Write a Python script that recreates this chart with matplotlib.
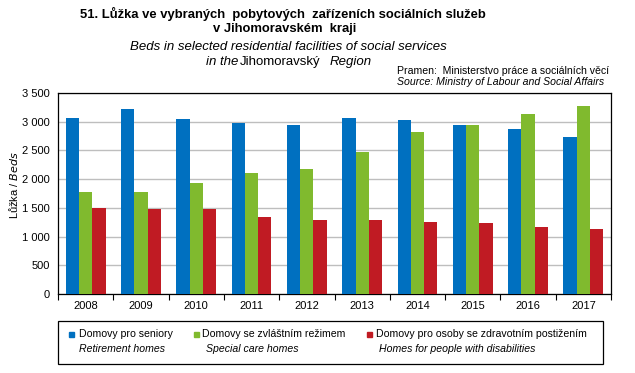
import matplotlib.pyplot as plt
import numpy as np
from matplotlib.patches import Rectangle

plt.rcParams['font.family'] = ['Liberation Sans', 'DejaVu Sans']

# data
years = ['2008', '2009', '2010', '2011', '2012', '2013', '2014', '2015', '2016', '2017']
seniory = [3070, 3227, 3052, 2983, 2948, 3070, 3035, 2948, 2878, 2738]
zvlastni = [1779, 1779, 1936, 2110, 2180, 2477, 2826, 2948, 3140, 3279]
postizeni = [1506, 1483, 1483, 1343, 1291, 1291, 1256, 1238, 1169, 1134]

cz_labels = ['Domovy pro seniory', 'Domovy se zvláštním režimem',
             'Domovy pro osoby se zdravotním postižením']
en_labels = ['Retirement homes', 'Special care homes', 'Homes for people with disabilities']
colors = ['#0070C0', '#80BA2E', '#C01B23']

W, H = 635, 373
fig = plt.figure(figsize=(W / 100, H / 100), dpi=100)
ax = fig.add_axes([58 / W, 1 - 294 / H, (611 - 58) / W, (294 - 93) / H])

x = np.arange(len(years))
bw = 0.24
for i, (vals, c) in enumerate(zip([seniory, zvlastni, postizeni], colors)):
    ax.bar(x + (i - 1) * bw, vals, bw, color=c, zorder=3)

ax.set_xlim(-0.5, len(years) - 0.5)
ax.set_ylim(0, 3500)
ax.set_yticks(np.arange(0, 3501, 500))
ax.set_yticklabels([f'{v:,}'.replace(',', ' ') for v in range(0, 3501, 500)], fontsize=8)
ax.yaxis.grid(True, color='#BEBEBE', linewidth=1, zorder=0)
ax.tick_params(axis='y', length=0, pad=6)

# category ticks between groups, labels centred
ax.set_xticks(np.arange(-0.5, len(years), 1))
ax.set_xticklabels([])
ax.set_xticks(x, minor=True)
ax.set_xticklabels(years, minor=True, fontsize=8)
ax.tick_params(axis='x', which='major', length=4, direction='out', width=0.8)
ax.tick_params(axis='x', which='minor', length=0, pad=5)
for s in ax.spines.values():
    s.set_linewidth(0.9)

fig.text(13 / W, 1 - 185 / H, 'Lůžka / $\\it{Beds}$', rotation=90, ha='center', va='center', fontsize=8)

# titles
fig.text(283 / W, 1 - 14 / H, '51. Lůžka ve vybraných  pobytových  zařízeních sociálních služeb',
         ha='center', va='center', fontsize=9.4, fontweight='bold')
fig.text(285 / W, 1 - 29 / H, 'v Jihomoravském  kraji', ha='center', va='center',
         fontsize=9.4, fontweight='bold')
fig.text(288 / W, 1 - 47 / H, 'Beds in selected residential facilities of social services',
         ha='center', va='center', fontsize=9.5, style='italic')
fig.text(206 / W, 1 - 62 / H, 'in the', ha='left', va='center', fontsize=9.5, style='italic')
fig.text(240 / W, 1 - 62 / H, 'Jihomoravský', ha='left', va='center', fontsize=9.5)
fig.text(330 / W, 1 - 62 / H, 'Region', ha='left', va='center', fontsize=9.5, style='italic')
fig.text(397 / W, 1 - 71 / H, 'Pramen:  Ministerstvo práce a sociálních věcí',
         ha='left', va='center', fontsize=7.6)
fig.text(397 / W, 1 - 82 / H, 'Source: Ministry of Labour and Social Affairs',
         ha='left', va='center', fontsize=7.6, style='italic')

# legend box drawn by hand
fig.patches.append(Rectangle((58 / W, 1 - 364 / H), (603 - 58) / W, (364 - 321) / H,
                             transform=fig.transFigure, fill=False, edgecolor='black', linewidth=0.9))
sq_x = [71, 196, 369]
txt_x = [79, 202, 376]
it_x = [79, 206, 379]
for i in range(3):
    fig.patches.append(Rectangle(((sq_x[i] - 2.5) / W, 1 - 336.5 / H), 5 / W, 5 / H,
                                 transform=fig.transFigure, color=colors[i]))
    fig.text(txt_x[i] / W, 1 - 334 / H, cz_labels[i], ha='left', va='center', fontsize=7.6)
    fig.text(it_x[i] / W, 1 - 349 / H, en_labels[i], ha='left', va='center', fontsize=7.6,
             style='italic')

fig.savefig('out.png', dpi=100)
